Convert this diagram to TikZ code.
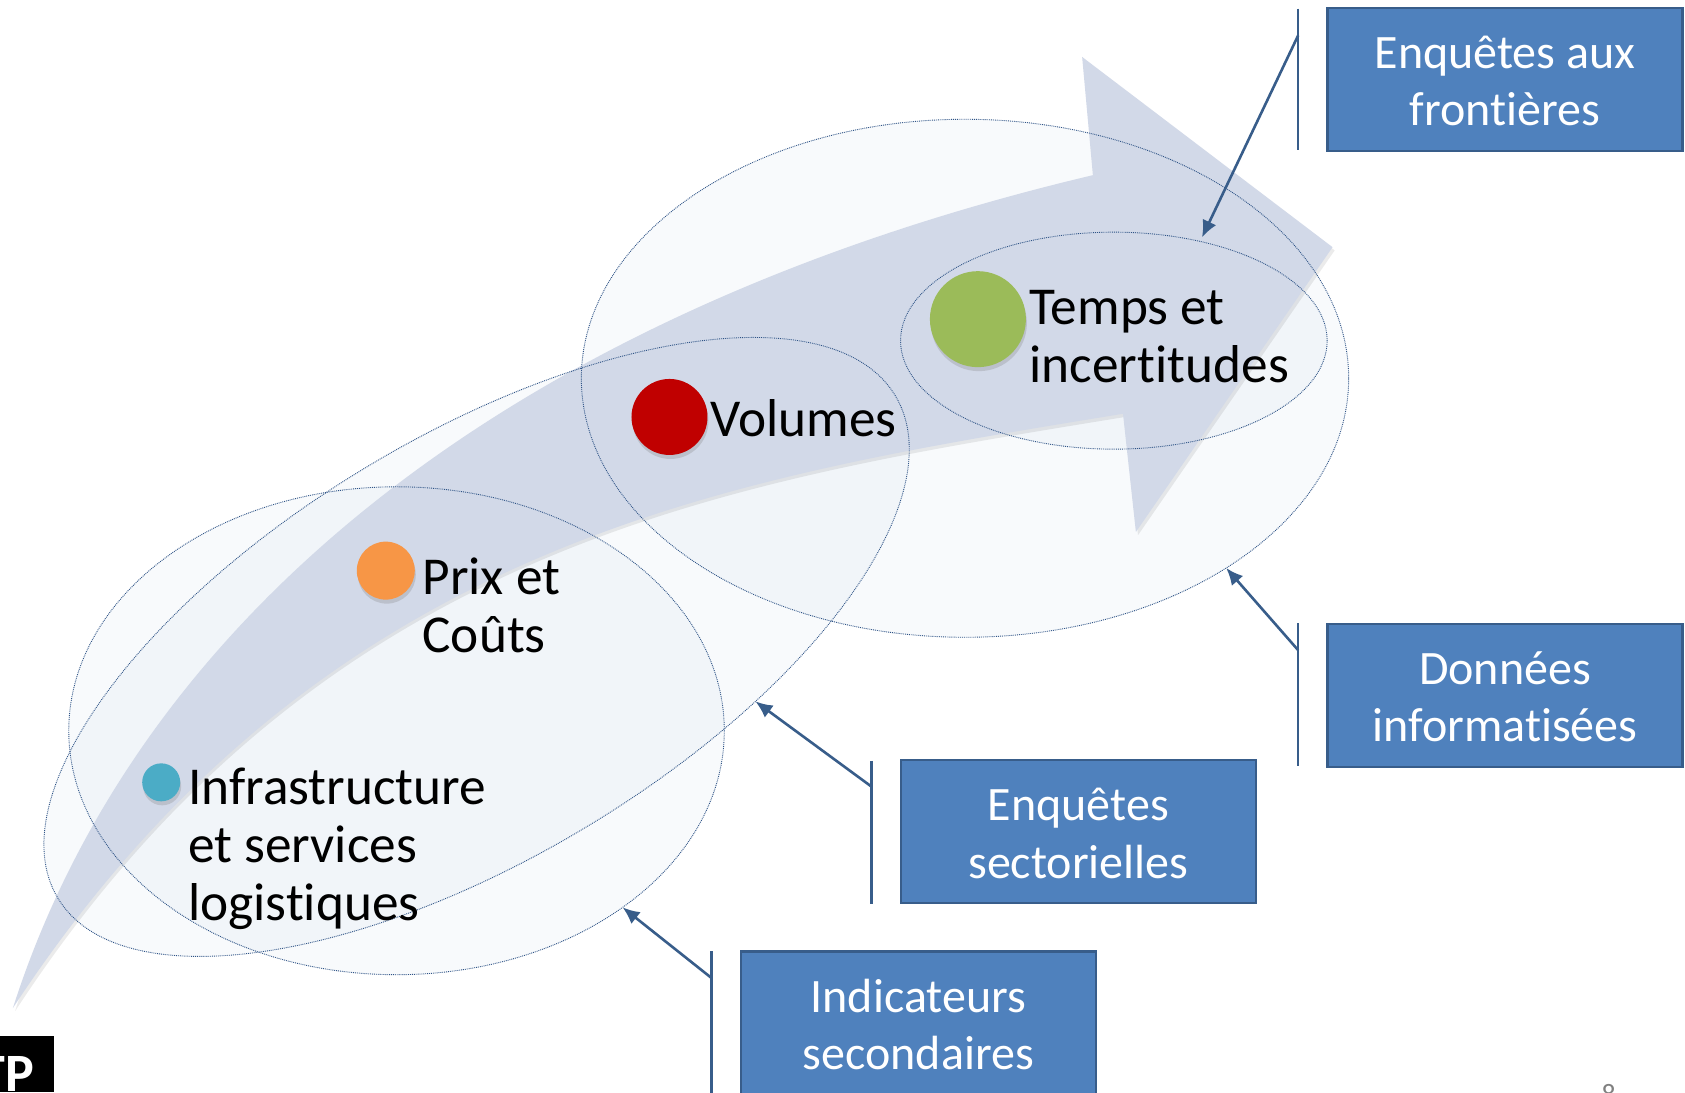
\documentclass[tikz,border=0pt]{standalone}
\usepackage{fontspec}
\setmainfont{Carlito}[Ligatures=NoCommon]
\usetikzlibrary{shapes.geometric,arrows.meta,shadows}
\definecolor{boxfill}{HTML}{4F81BD}
\definecolor{boxline}{HTML}{385D8A}
\definecolor{arrowfill}{HTML}{D2D9E8}
\definecolor{ringline}{HTML}{2F5487}
\tikzset{
  ringfill/.style={ellipse,inner sep=0pt,outer sep=0pt,fill=boxfill,fill opacity=0.04},
  ring/.style={ellipse,inner sep=0pt,outer sep=0pt,draw=ringline,line width=0.9pt,densely dotted},
  infobox/.style={rectangle,draw=boxline,line width=2.2pt,fill=boxfill,minimum width=355pt,minimum height=143pt,inner sep=0pt},
  boxtext/.style={text=white,inner sep=0pt,align=center,font=\fontsize{48}{57.5}\selectfont,yshift=-1.6pt},
  dot/.style={circle,inner sep=0pt,drop shadow={shadow xshift=1pt,shadow yshift=-4pt,opacity=0.28}},
  lab/.style={anchor=west,inner sep=0pt,align=left,font=\fontsize{53.3}{58}\selectfont,text=black},
  bar/.style={draw=boxline,line width=2.2pt},
  pointer/.style={draw=boxline,line width=2.6pt,-{Latex[length=17pt,width=15pt]}},
}
\begin{document}
\begin{tikzpicture}[x=1.0746pt,y=-1.0746pt]
\useasboundingbox (0,0) rectangle (1568,1016.2);
\clip (0,0) rectangle (1568,1016.2);
\fill[white] (0,0) rectangle (1568,1016.2);
% ellipse fills
\node[ringfill,minimum width=655.5pt,minimum height=487.9pt] (F1) at (369,680) {};
\node[ringfill,minimum width=976.6pt,minimum height=421.7pt,rotate=30.95] (F2) at (443.5,602) {};
\node[ringfill,minimum width=767.3pt,minimum height=518pt] (F3) at (898,352) {};
\node[ringfill,minimum width=426.6pt,minimum height=217pt] (F4) at (1036.5,317) {};
% big arrow shadow and body
\fill[black,opacity=0.08] (14,941) .. controls (132,573) and (482,293) .. (1019,166) -- (1009,56) -- (1242,233) -- (1059,498) -- (1047,388) .. controls (680,448) and (300,503) .. cycle;
\fill[arrowfill] (12,938) .. controls (130,570) and (480,290) .. (1017,163) -- (1007,53) -- (1240,230) -- (1057,495) -- (1045,385) .. controls (680,445) and (300,500) .. cycle;
% ellipses
\node[ring,minimum width=655.5pt,minimum height=487.9pt] (E1) at (369,680) {};
\node[ring,minimum width=976.6pt,minimum height=421.7pt,rotate=30.95] (E2) at (443.5,602) {};
\node[ring,minimum width=767.3pt,minimum height=518pt] (E3) at (898,352) {};
\node[ring,minimum width=426.6pt,minimum height=217pt] (E4) at (1036.5,317) {};
% dots
\node[dot,fill={rgb,255:red,75;green,172;blue,198},minimum size=38pt] (D1) at (150,728) {};
\node[dot,fill={rgb,255:red,247;green,150;blue,70},minimum size=58pt] (D2) at (359,531) {};
\node[dot,fill={rgb,255:red,192;green,0;blue,0},minimum size=76pt] (D3) at (623,388) {};
\node[dot,fill={rgb,255:red,155;green,187;blue,89},minimum size=96pt] (D4) at (910,297) {};
% labels
\node[lab] (L1) at (175,790) {Infrastructure\\et services\\logistiques};
\node[lab] (L2) at (393,563) {Prix et\\Coûts};
\node[lab] (L3) at (661,389) {Volumes};
\node[lab] (L4) at (958,313) {Temps et\\incertitudes};
% boxes
\node[infobox,label={[boxtext]center:Enquêtes aux\\frontières}] (B1) at (1400.5,74) {};
\node[infobox,label={[boxtext]center:Données\\informatisées}] (B2) at (1400.5,647) {};
\node[infobox,label={[boxtext]center:Enquêtes\\sectorielles}] (B3) at (1003.5,774) {};
\node[infobox,label={[boxtext]center:Indicateurs\\secondaires}] (B4) at (854.5,952) {};
% callout bars
\coordinate (T1) at (1208,8);   \coordinate (U1) at (1208,140);  \coordinate (S1) at (1208,33);
\coordinate (T2) at (1208,580); \coordinate (U2) at (1208,713);  \coordinate (S2) at (1208,605);
\coordinate (T3) at (811,708);  \coordinate (U3) at (811,841);   \coordinate (S3) at (811,732);
\coordinate (T4) at (662,885);  \coordinate (U4) at (662,1018);  \coordinate (S4) at (662,910);
\draw[bar] (T1) -- (U1);
\draw[bar] (T2) -- (U2);
\draw[bar] (T3) -- (U3);
\draw[bar] (T4) -- (U4);
\draw[pointer,shorten >=4.4pt] (S1) -- (E4.49.5);
\draw[pointer] (S2) -- (E3.-36.3);
\draw[pointer] (S3) -- (E2.-42);
\draw[pointer] (S4) -- (E1.-38);
% logo and page number
\fill[black] (0,964) rectangle (50,1016.2);
\node[anchor=base east,inner sep=0pt,text=white,font=\fontsize{54}{54}\bfseries\selectfont] (LG) at (32,1016) {TP};
\node[anchor=base,inner sep=0pt,text=gray,font=\fontsize{28}{28}\selectfont] (PN) at (1497,1027) {8};
\end{tikzpicture}
\end{document}
